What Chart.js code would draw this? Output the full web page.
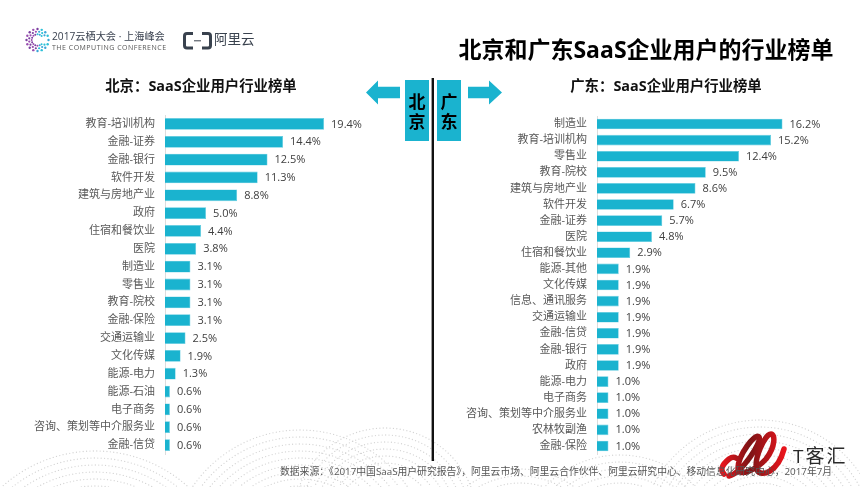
<!DOCTYPE html>
<html lang="zh">
<head>
<meta charset="utf-8">
<script src="https://cdn.jsdelivr.net/npm/chart.js@4"></script>
<style>
  html, body { margin: 0; padding: 0; background: #fff; }
  #page { position: relative; width: 860px; height: 487px; overflow: hidden; font-family: "Open Sans", "Noto Sans CJK SC", sans-serif; }
  #page canvas, #page svg { position: absolute; top: 0; }
  .txt { position: absolute; white-space: nowrap; line-height: 1; }
  .title { left: 646px; top: 38px; transform: translateX(-50%); font-size: 23px; font-weight: 700; color: #000; }
  .sub { top: 79px; transform: translateX(-50%); font-size: 14.4px; font-weight: 700; color: #111; }
  .city { top: 92px; width: 24px; text-align: center; font-size: 17px; line-height: 20px; font-weight: 700; color: #000; white-space: normal; }
  .source { left: 280px; top: 467px; font-size: 9.8px; color: #555; }
</style>
</head>
<body>
<div id="page">
  <canvas id="dots" width="860" height="487"></canvas>
  <canvas id="bjChart" width="430" height="487" style="left:0"></canvas>
  <canvas id="gdChart" width="430" height="487" style="left:430px"></canvas>

  <svg width="860" height="487" style="left:0">
    <defs>
      <linearGradient id="redGrad" x1="0" y1="0" x2="1" y2="0">
        <stop offset="0" stop-color="#e8141c"/>
        <stop offset="0.45" stop-color="#7d1416"/>
        <stop offset="1" stop-color="#e8141c"/>
      </linearGradient>
    </defs>
    <!-- 中间的箭头和色块 -->
    <rect x="405" y="80" width="24" height="61" fill="#1ab3cf"/>
    <rect x="437" y="80" width="24" height="61" fill="#1ab3cf"/>
    <rect x="431.6" y="78" width="2.4" height="383" fill="#111"/>
    <polygon points="366,92.5 378,80.5 378,86.7 400,86.7 400,98.3 378,98.3 378,104.5" fill="#1ab3cf"/>
    <polygon points="502,92.5 489,80.5 489,86.7 468,86.7 468,98.3 489,98.3 489,104.5" fill="#1ab3cf"/>
    <!-- 阿里云 logo -->
    <path d="M193 33.5 H187 Q184.5 33.5 184.5 36 V45.5 Q184.5 48 187 48 H193 M202 33.5 H208 Q210.5 33.5 210.5 36 V45.5 Q210.5 48 208 48 H202" fill="none" stroke="#39424e" stroke-width="3"/>
    <rect x="194" y="40.3" width="7" height="1" fill="#39424e"/>
    <!-- 云栖 logo -->
    <g id="confLogo"></g>
    <!-- T客汇 logo -->
    <path d="M724 474 Q718 468 729 459 Q733 456 736 458 M729 476 C 742 473, 762 442, 759 437 C 755 432, 738 456, 738 468 C 738 478, 756 470, 766 459 C 776 446, 775 434, 771 434 C 765 434, 753 460, 757 470 C 761 478, 778 472, 784 449" fill="none" stroke="url(#redGrad)" stroke-width="5.5" stroke-linecap="round"/>
  </svg>

  <div class="txt title">北京和广东SaaS企业用户的行业榜单</div>
  <div class="txt sub" style="left:201px">北京：SaaS企业用户行业榜单</div>
  <div class="txt sub" style="left:666px">广东：SaaS企业用户行业榜单</div>
  <div class="txt city" style="left:405px">北京</div>
  <div class="txt city" style="left:437px">广东</div>
  <div class="txt" style="left:52px;top:31px;font-size:10.2px;color:#3a4250">2017云栖大会 · 上海峰会</div>
  <div class="txt" style="left:52px;top:44px;font-size:7px;letter-spacing:.5px;color:#555">THE COMPUTING CONFERENCE</div>
  <div class="txt" style="left:214px;top:33px;font-size:13.5px;color:#39424e">阿里云</div>
  <div class="txt source">数据来源：《2017中国SaaS用户研究报告》，阿里云市场、阿里云合作伙伴、阿里云研究中心、移动信息化研究中心，2017年7月</div>
  <div class="txt" style="left:793px;top:447px;font-size:19px;letter-spacing:2px;color:#2a2a2a">T客汇</div>
</div>

<script>
// 北京
const bjCategories = ['教育-培训机构', '金融-证券', '金融-银行', '软件开发', '建筑与房地产业', '政府', '住宿和餐饮业', '医院', '制造业', '零售业', '教育-院校', '金融-保险', '交通运输业', '文化传媒', '能源-电力', '能源-石油', '电子商务', '咨询、策划等中介服务业', '金融-信贷'];
const bjValues = [19.4, 14.4, 12.5, 11.3, 8.8, 5.0, 4.4, 3.8, 3.1, 3.1, 3.1, 3.1, 2.5, 1.9, 1.3, 0.6, 0.6, 0.6, 0.6];

// 广东
const gdCategories = ['制造业', '教育-培训机构', '零售业', '教育-院校', '建筑与房地产业', '软件开发', '金融-证券', '医院', '住宿和餐饮业', '能源-其他', '文化传媒', '信息、通讯服务', '交通运输业', '金融-信贷', '金融-银行', '政府', '能源-电力', '电子商务', '咨询、策划等中介服务业', '农林牧副渔', '金融-保险'];
const gdValues = [16.2, 15.2, 12.4, 9.5, 8.6, 6.7, 5.7, 4.8, 2.9, 1.9, 1.9, 1.9, 1.9, 1.9, 1.9, 1.9, 1.0, 1.0, 1.0, 1.0, 1.0];

const FONT = '"Open Sans", "Noto Sans CJK SC", sans-serif';

// 柱子右边的百分比
const valueLabels = {
    id: 'valueLabels',
    afterDatasetsDraw(chart) {
        const c = chart.ctx;
        const values = chart.data.datasets[0].data;
        c.save();
        c.font = '11px ' + FONT;
        c.fillStyle = '#404040';
        c.textBaseline = 'middle';
        chart.getDatasetMeta(0).data.forEach((bar, i) => {
            c.fillText(values[i].toFixed(1) + '%', bar.x + 7, bar.y + 0.5);
        });
        c.restore();
    }
};

function makeChart(id, labels, values, yWidth, xMax, rightPad, topPad) {
    return new Chart(document.getElementById(id).getContext('2d'), {
        type: 'bar',
        data: {
            labels: labels,
            datasets: [{
                data: values,
                backgroundColor: '#1ab3cf',
                borderColor: '#5fcbe0',
                borderWidth: 0.6,
                categoryPercentage: 0.66,
                barPercentage: 1
            }]
        },
        options: {
            indexAxis: 'y',
            responsive: false,
            animation: false,
            layout: { padding: { top: topPad, bottom: 33, left: 0, right: rightPad } },
            plugins: { legend: { display: false }, tooltip: { enabled: false } },
            scales: {
                x: { display: false, min: 0, max: xMax },
                y: {
                    afterFit(scale) { scale.width = yWidth; },
                    grid: { display: false, drawTicks: false },
                    border: { color: '#dcdcdc', width: 1 },
                    ticks: { color: '#595959', padding: 10, autoSkip: false, font: { family: FONT, size: 11 } }
                }
            }
        },
        plugins: [valueLabels]
    });
}

makeChart('bjChart', bjCategories, bjValues, 165, 25, 60, 115);
makeChart('gdChart', gdCategories, gdValues, 167, 20, 34, 116);

// 底部的灰色点状波浪,只是装饰
(function drawDots() {
    const c = document.getElementById('dots').getContext('2d');
    c.fillStyle = '#d4d4d4';
    const fans = [
        { cx: 300, cy: 560, rMin: 60, rMax: 135, a0: 3.3, a1: 6.1 },
        { cx: 95, cy: 590, rMin: 90, rMax: 145, a0: 3.6, a1: 5.7 },
        { cx: 385, cy: 520, rMin: 50, rMax: 92, a0: 3.4, a1: 6.0 },
        { cx: 760, cy: 540, rMin: 50, rMax: 125, a0: 3.4, a1: 6.0 },
        { cx: 620, cy: 560, rMin: 70, rMax: 110, a0: 3.8, a1: 5.6 },
        { cx: 520, cy: 560, rMin: 70, rMax: 95, a0: 3.8, a1: 5.6 }
    ];
    fans.forEach(f => {
        for (let r = f.rMin; r <= f.rMax; r += 7) {
            const step = 3.4 / r;
            for (let a = f.a0; a < f.a1; a += step) {
                const x = f.cx + r * Math.cos(a);
                const y = f.cy + r * Math.sin(a);
                if (y > 415 && y < 487) {
                    c.beginPath();
                    c.arc(x, y, 0.65, 0, Math.PI * 2);
                    c.fill();
                }
            }
        }
    });
})();

// 云栖大会的圆点 logo
(function drawConfLogo() {
    const g = document.getElementById('confLogo');
    const colors = ['#7b3fa0', '#9a4fb0', '#3aa6d8', '#2cc0d8', '#5a6fc0'];
    for (let ring = 0; ring < 3; ring++) {
        const r = 11 - ring * 2.6;
        for (let k = 0; k < 16; k++) {
            const a = k / 16 * Math.PI * 2 + ring * 0.2;
            if (ring > 0 && Math.cos(a) > 0.1 && Math.abs(Math.sin(a)) < 0.5) continue;
            const dot = document.createElementNS('http://www.w3.org/2000/svg', 'circle');
            dot.setAttribute('cx', 37.5 + r * Math.cos(a));
            dot.setAttribute('cy', 40 + r * Math.sin(a));
            dot.setAttribute('r', 1.2 - ring * 0.1);
            dot.setAttribute('fill', Math.cos(a) > 0 ? colors[2 + (k % 2)] : colors[k % 2]);
            g.appendChild(dot);
        }
    }
})();
</script>
</body>
</html>
